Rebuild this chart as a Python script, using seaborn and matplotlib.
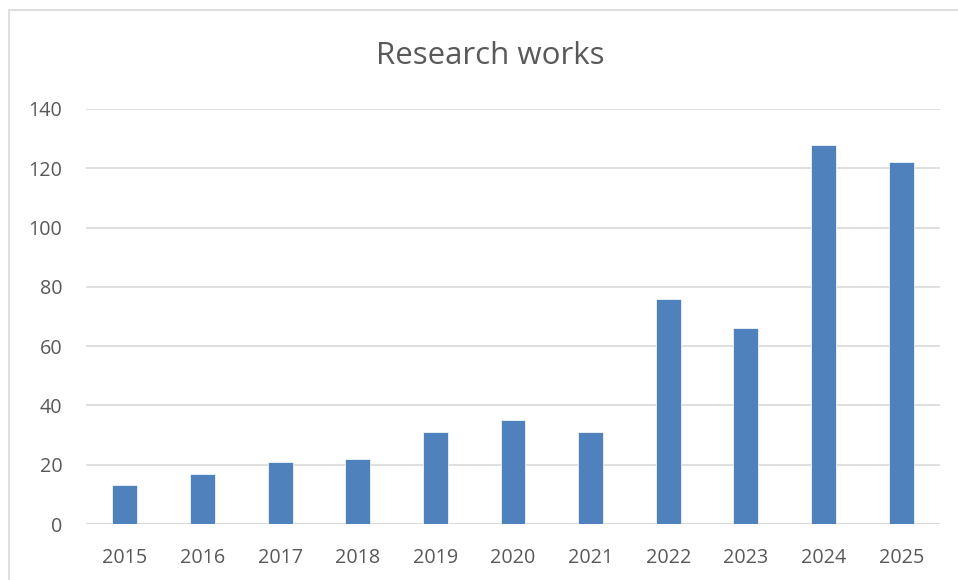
import matplotlib
matplotlib.use("Agg")
import matplotlib.pyplot as plt
import seaborn as sns
import pandas as pd
from matplotlib.patches import Rectangle

years = ["2015", "2016", "2017", "2018", "2019", "2020", "2021", "2022", "2023", "2024", "2025"]
works = [13, 17, 21, 22, 31, 35, 31, 76, 66, 128, 122]
y_ticks = [0, 20, 40, 60, 80, 100, 120, 140]

sns.set_theme(style="white")
plt.rcParams['font.family'] = ['Open Sans', 'DejaVu Sans']

TEXT = "#595959"
GRID = "#D9D9D9"
BAR = "#4F81BD"

fig = plt.figure(figsize=(9.58, 5.80), dpi=100)
ax = fig.add_axes([86/958, 1-524/580, (940-86)/958, (524-109)/580])

df = pd.DataFrame({"year": years, "works": works})
sns.barplot(data=df, x="year", y="works", color=BAR, saturation=1, width=0.32,
            edgecolor="white", linewidth=0.5, ax=ax, zorder=3)

ax.set_ylim(0, 140)
ax.set_yticks(y_ticks)
ax.set_xlim(-0.5, len(years) - 0.5)
ax.yaxis.grid(True, color=GRID, linewidth=1.2, zorder=0)
ax.xaxis.grid(False)
for s in ax.spines.values():
    s.set_visible(False)
ax.axhline(0, color=GRID, linewidth=1.2, zorder=1)
ax.set_xlabel("")
ax.set_ylabel("")
ax.tick_params(axis="both", length=0, labelsize=14.2, labelcolor=TEXT)
ax.tick_params(axis="y", pad=17)
ax.tick_params(axis="x", pad=17)

fig.text(490/958, 1-56/580, "Research works", ha="center", va="center",
         fontsize=22.5, color=TEXT)

fig.patches.append(Rectangle((9/958, -0.1), 1.1, 1 - 10/580 + 0.1, transform=fig.transFigure,
                             fill=False, edgecolor=GRID, linewidth=1.2))

fig.savefig("out.png", dpi=100)
